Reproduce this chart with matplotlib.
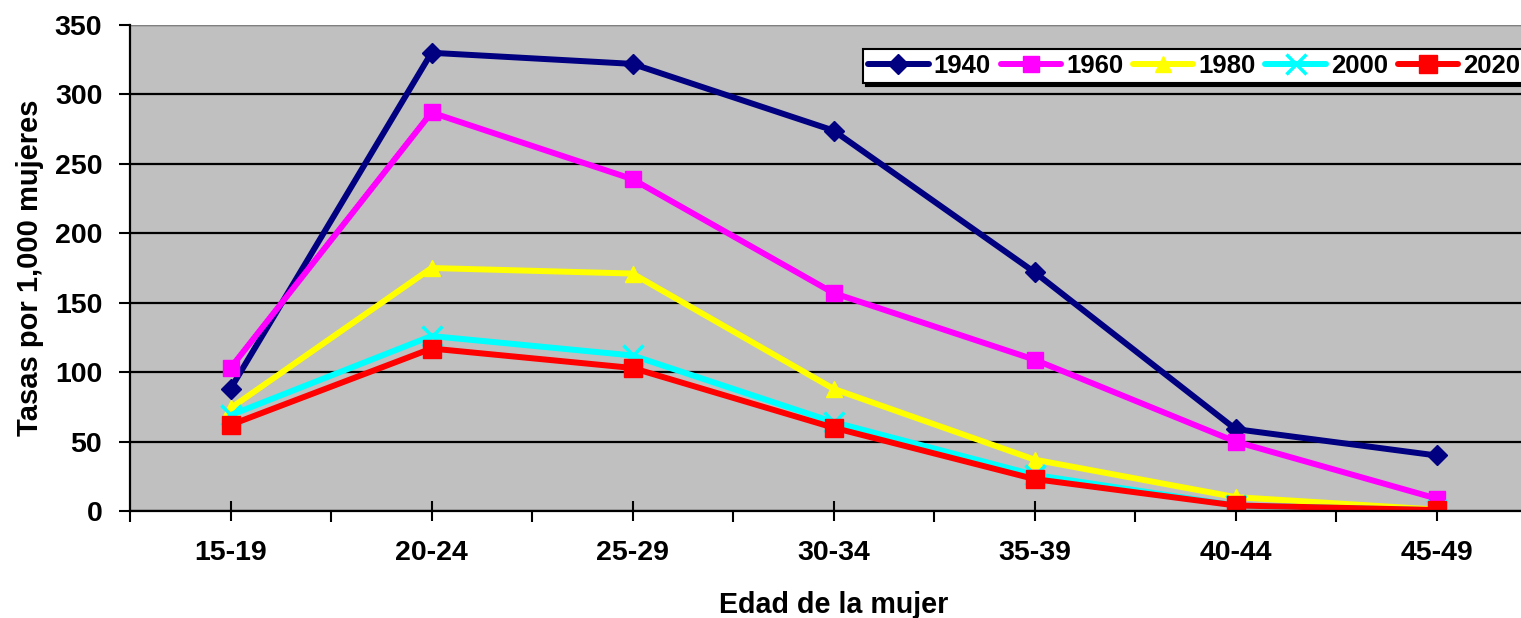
import numpy as np
import matplotlib.pyplot as plt

plt.rcParams['font.family'] = ['Liberation Sans', 'DejaVu Sans']
plt.rcParams['font.weight'] = 'bold'

grupos = ['15-19', '20-24', '25-29', '30-34', '35-39', '40-44', '45-49']
anios = ['1940', '1960', '1980', '2000', '2020']
tasas_1940 = [88, 330, 322, 274, 172, 59, 40]
tasas_1960 = [103, 287, 239, 157, 109, 50, 9]
tasas_1980 = [74, 175, 171, 88, 37, 10, 1]
tasas_2000 = [69, 126, 112, 64, 26, 4, 0.5]
tasas_2020 = [62, 117, 103, 60, 23, 4, 0.7]

series = [tasas_1940, tasas_1960, tasas_1980, tasas_2000, tasas_2020]
colores = ['#000080', '#FF00FF', '#FFFF00', '#00FFFF', '#FF0000']
marcadores = ['D', 's', '^', 'x', 's']
tamanos = [10, 11, 12, 14, 13]

fig = plt.figure(figsize=(15.21, 6.18), dpi=100)
ax = fig.add_axes([130 / 1521, 107 / 618, 1407 / 1521, 486 / 618])
ax.set_facecolor('#C0C0C0')

x = np.arange(len(grupos))
for datos, anio, color, marca, ms in zip(series, anios, colores, marcadores, tamanos):
    ax.plot(x, datos, color=color, lw=4.3, marker=marca, ms=ms,
            mew=2.5 if marca == 'x' else 1, mec=color, mfc=color,
            label=anio, solid_joinstyle='round', solid_capstyle='round')

ax.set_xlim(-0.5, 6.5)
ax.set_ylim(0, 350)
ax.set_yticks(range(0, 351, 50))
ax.set_xticks(x)
ax.set_xticklabels(grupos)
ax.set_xticks(np.arange(-0.5, 7, 1), minor=True)
ax.yaxis.grid(True, color='black', lw=1.6)
ax.set_axisbelow(True)

ax.tick_params(axis='x', which='major', direction='inout', length=14, width=1.5, labelsize=20.5, pad=14)
ax.tick_params(axis='x', which='minor', direction='out', length=8, width=1.5)
ax.tick_params(axis='y', direction='out', length=8, width=1.5, labelsize=20.5, pad=12)

for lado in ['top', 'right']:
    ax.spines[lado].set_visible(False)
ax.spines['left'].set_linewidth(1.6)
ax.spines['bottom'].set_linewidth(1.6)
ax.axhline(350, color='#808080', lw=1.5)

ax.set_xlabel('Edad de la mujer', fontsize=20.6, fontweight='bold', labelpad=18)
ax.set_ylabel('Tasas por 1,000 mujeres', fontsize=21, fontweight='bold', labelpad=8)

leg = ax.legend(ncol=5, loc='upper left', bbox_to_anchor=(863 / 1521, 1 - 49 / 618),
                bbox_transform=fig.transFigure, fontsize=18.5, frameon=True,
                fancybox=False, shadow={'color': 'black', 'alpha': 1},
                handlelength=2.35, handletextpad=0.2, columnspacing=0.38,
                borderpad=0.2, borderaxespad=0)
leg.get_frame().set_edgecolor('black')
leg.get_frame().set_linewidth(1.5)
leg.get_frame().set_facecolor('white')
leg.get_frame().set_alpha(1)

fig.savefig('out.png', dpi=100)
